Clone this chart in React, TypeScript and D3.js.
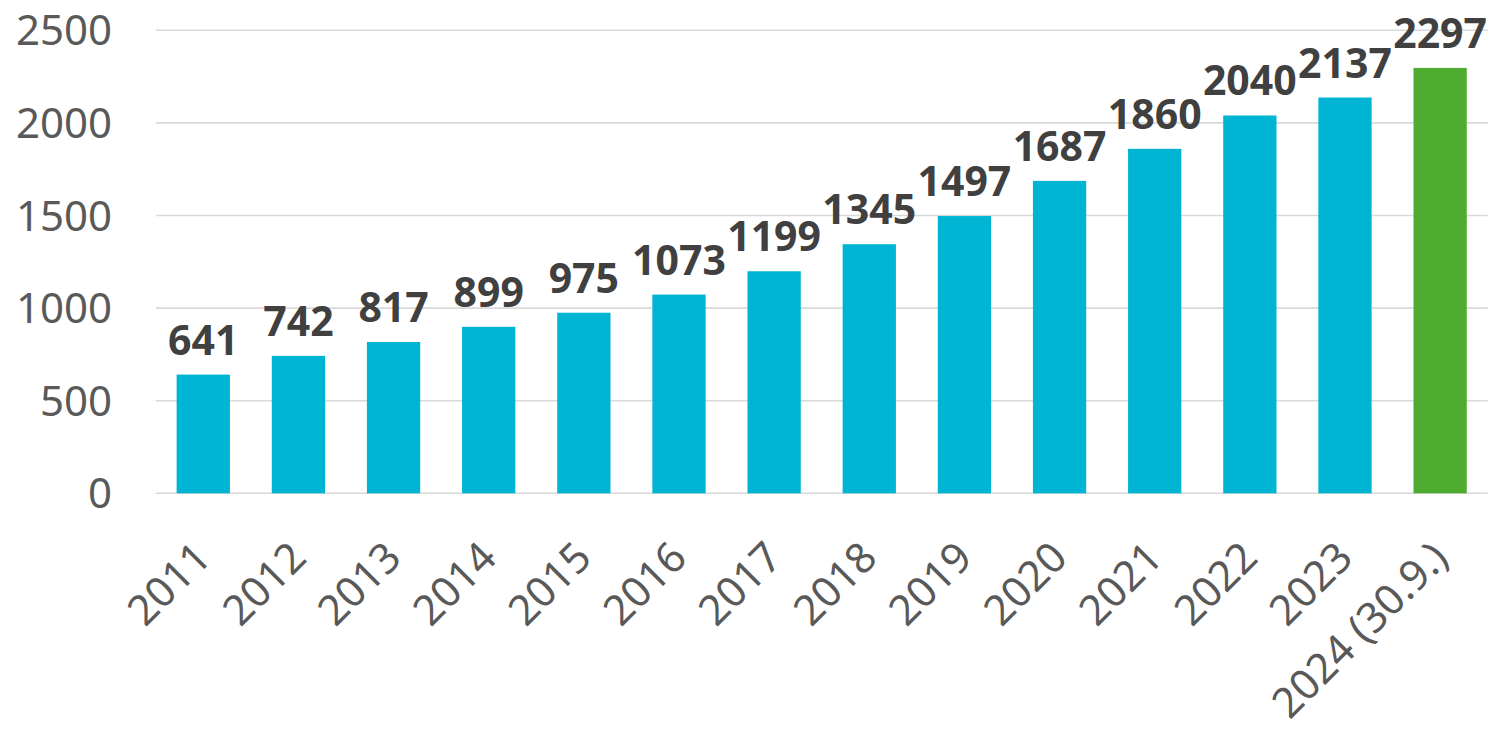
import React from "react";
import * as d3 from "d3";

const categories = ["2011","2012","2013","2014","2015","2016","2017","2018","2019","2020","2021","2022","2023","2024 (30.9.)"];
const values = [641,742,817,899,975,1073,1199,1345,1497,1687,1860,2040,2137,2297];
const barColors = ["#00B4D4","#00B4D4","#00B4D4","#00B4D4","#00B4D4","#00B4D4","#00B4D4","#00B4D4","#00B4D4","#00B4D4","#00B4D4","#00B4D4","#00B4D4","#4EAD30"];
const yTicks = [0,500,1000,1500,2000,2500];

const W = 1492, H = 730;
const plotLeft = 155.7, plotRight = 1487.7, plotTop = 30.3, plotBottom = 493.3;

export default function App() {
  const x = d3.scaleBand<string>().domain(categories).range([plotLeft, plotRight]).paddingInner(0.44).paddingOuter(0.22);
  const y = d3.scaleLinear().domain([0, 2500]).range([plotBottom, plotTop]);
  const font = "'Noto Sans', 'Open Sans', sans-serif";
  return (
    <svg width={W} height={H} style={{ position: "absolute", left: 0, top: 0, background: "#fff" }} fontFamily={font}>
      {yTicks.map(t => (
        <g key={t}>
          <line x1={plotLeft} x2={plotRight} y1={y(t)} y2={y(t)} stroke="#D9D9D9" strokeWidth={1.6} />
          <text x={112} y={y(t)} dy="0.36em" textAnchor="end" fontSize={42} fill="#595959">{t}</text>
        </g>
      ))}
      {categories.map((c, i) => {
        const bx = x(c) as number;
        const cx = bx + x.bandwidth() / 2;
        return (
          <g key={c}>
            <rect x={bx} y={y(values[i])} width={x.bandwidth()} height={plotBottom - y(values[i])} fill={barColors[i]} />
            <text x={cx} y={y(values[i]) - 20} textAnchor="middle" fontSize={41} fontWeight="bold" fill="#404040">{values[i]}</text>
            <text transform={`translate(${cx + 10},${560}) rotate(-45)`} textAnchor="end" fontSize={42} fill="#595959">{c}</text>
          </g>
        );
      })}
    </svg>
  );
}
